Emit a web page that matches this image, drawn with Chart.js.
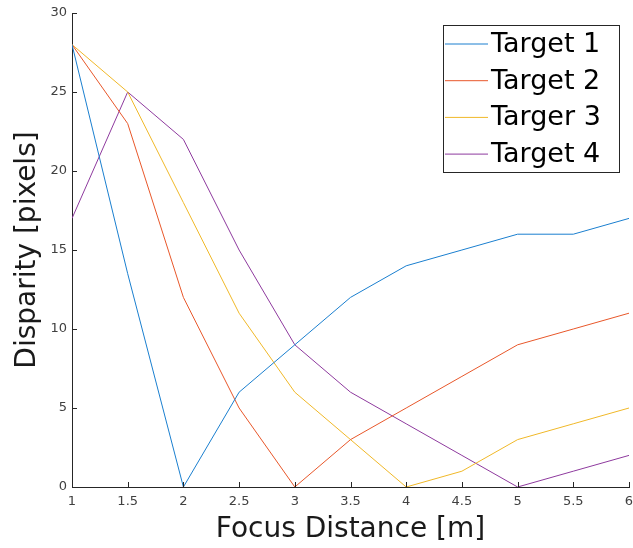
<!DOCTYPE html>
<html>
<head>
<meta charset="utf-8">
<script src="https://cdn.jsdelivr.net/npm/chart.js@4.4.1/dist/chart.umd.min.js"></script>
<style>
  html, body { margin: 0; padding: 0; background: #fff; }
  #wrap { width: 633px; height: 548px; }
</style>
</head>
<body>
<div id="wrap"><canvas id="chart" width="633" height="548"></canvas></div>
<script>
const focusDistance = [1, 1.5, 2, 2.5, 3, 3.5, 4, 4.5, 5, 5.5, 6];
const target1 = [28, 13.5, 0, 6, 9, 12, 14, 15, 16, 16, 17];
const target2 = [28, 23, 12, 5, 0, 3, 5, 7, 9, 10, 11];
const target3 = [28, 25, 18, 11, 6, 3, 0, 1, 3, 4, 5];
const target4 = [17, 25, 22, 15, 9, 6, 4, 2, 0, 1, 2];
const seriesNames = ["Target 1", "Target 2", "Targer 3", "Target 4"];
const seriesColors = ["#1a7fcf", "#e8572a", "#f0b828", "#8e3a9e"];

const FONT = "'DejaVu Sans', sans-serif";
const AXIS_COLOR = "#262626";

function toPoints(ys) {
  return focusDistance.map((x, i) => ({ x, y: ys[i] }));
}

// MATLAB style: tick marks pointing into the plot
const innerTicks = {
  id: "innerTicks",
  afterDraw(chart) {
    const { ctx, chartArea: a } = chart;
    const xs = chart.scales.x, ys = chart.scales.y;
    ctx.save();
    ctx.strokeStyle = AXIS_COLOR;
    ctx.lineWidth = 1;
    ctx.beginPath();
    xs.ticks.forEach((t) => {
      const px = Math.round(xs.getPixelForValue(t.value)) + 0.5;
      ctx.moveTo(px, a.bottom);
      ctx.lineTo(px, a.bottom - 5);
    });
    ys.ticks.forEach((t) => {
      const py = Math.round(ys.getPixelForValue(t.value)) + 0.5;
      ctx.moveTo(a.left, py);
      ctx.lineTo(a.left + 5, py);
    });
    ctx.stroke();
    ctx.restore();
  },
};

// legend box drawn inside the axes, top right
const boxLegend = {
  id: "boxLegend",
  afterDraw(chart) {
    const { ctx } = chart;
    const left = 443, top = 25, w = 176, h = 147, row = 36.7;
    ctx.save();
    ctx.fillStyle = "#fff";
    ctx.fillRect(left, top, w, h);
    ctx.strokeStyle = AXIS_COLOR;
    ctx.lineWidth = 1;
    ctx.strokeRect(left + 0.5, top + 0.5, w, h);
    ctx.font = "27px " + FONT;
    ctx.textBaseline = "middle";
    chart.data.datasets.forEach((ds, i) => {
      const y = top + 19 + i * row;
      ctx.strokeStyle = ds.borderColor;
      ctx.beginPath();
      ctx.moveTo(left + 2, y);
      ctx.lineTo(left + 45, y);
      ctx.stroke();
      ctx.fillStyle = "#000";
      ctx.fillText(ds.label, left + 48, y + 1);
    });
    ctx.restore();
  },
};

new Chart(document.getElementById("chart"), {
  type: "line",
  data: {
    datasets: [target1, target2, target3, target4].map((ys, i) => ({
      label: seriesNames[i],
      data: toPoints(ys),
      borderColor: seriesColors[i],
      backgroundColor: seriesColors[i],
      borderWidth: 1,
      pointRadius: 0,
      tension: 0,
      fill: false,
    })),
  },
  options: {
    responsive: false,
    animation: false,
    layout: { padding: { top: 13, right: 4, left: 0, bottom: 0 } },
    plugins: { legend: { display: false }, tooltip: { enabled: false } },
    scales: {
      x: {
        type: "linear",
        min: 1,
        max: 6,
        grid: { display: false, drawTicks: false },
        border: { color: AXIS_COLOR, width: 1 },
        ticks: {
          stepSize: 0.5, color: "#404040", padding: 7, maxRotation: 0,
          font: { family: FONT, size: 13 },
          callback: (v) => String(v),
        },
        title: { display: true, text: "Focus Distance [m]", color: "#1a1a1a", font: { family: FONT, size: 28 }, padding: { top: 0, bottom: 1 } },
        afterFit(scale) {
          scale.height = 61;
          scale.paddingLeft = 0;
          scale.paddingRight = 0;
        },
      },
      y: {
        min: 0,
        max: 30,
        grid: { display: false, drawTicks: false },
        border: { color: AXIS_COLOR, width: 1 },
        ticks: { stepSize: 5, color: "#404040", padding: 5, font: { family: FONT, size: 13 } },
        title: { display: true, text: "Disparity [pixels]", color: "#1a1a1a", font: { family: FONT, size: 28 }, padding: { top: 11, bottom: 0 } },
        afterFit(scale) {
          scale.width = 72;
          scale.paddingTop = 0;
          scale.paddingBottom = 0;
        },
      },
    },
  },
  plugins: [innerTicks, boxLegend],
});
</script>
</body>
</html>
